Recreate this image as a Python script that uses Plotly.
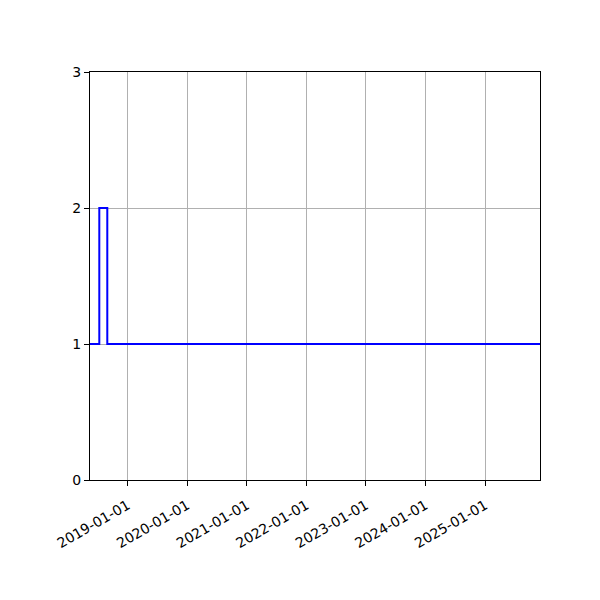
import plotly.graph_objects as go

# step series
dates = ["2018-05-15", "2018-07-11", "2018-08-29", "2025-12-03"]
counts = [1, 2, 1, 1]

tick_dates = ["2019-01-01", "2020-01-01", "2021-01-01", "2022-01-01",
              "2023-01-01", "2024-01-01", "2025-01-01"]
y_ticks = [0, 1, 2, 3]

fig = go.Figure()
fig.add_trace(go.Scatter(x=dates, y=counts,
                         mode="lines",
                         line=dict(color="blue", width=2, shape="hv"),
                         showlegend=False))

axis_style = dict(showline=True, linecolor="black", linewidth=1, mirror=True,
                  ticks="outside", ticklen=5, tickcolor="black", tickwidth=1,
                  showgrid=True, gridcolor="#b0b0b0", gridwidth=1,
                  zeroline=False,
                  tickfont=dict(family="DejaVu Sans", size=14, color="black"))

fig.update_xaxes(range=[dates[0], dates[-1]],
                 tickvals=tick_dates, ticktext=tick_dates,
                 tickangle=-30, ticklabelstandoff=6, **axis_style)
fig.update_yaxes(range=[0, 3], tickvals=y_ticks, **axis_style)

# page body adds 8px, so margins are offset to land the plot at 90..540 / 72..480
fig.update_layout(width=600, height=600,
                  margin=dict(l=82, r=68, t=64, b=128),
                  plot_bgcolor="white", paper_bgcolor="white")

fig.write_html("out.html")
